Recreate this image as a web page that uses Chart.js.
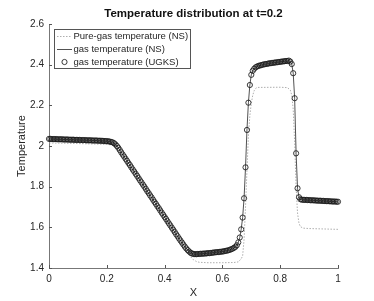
<!DOCTYPE html>
<html lang="en">
<head>
  <meta charset="UTF-8">
  <title>Temperature distribution at t=0.2</title>
  <script src="https://cdn.jsdelivr.net/npm/chart.js"></script>
  <style>
    * {
      box-sizing: border-box;
      margin: 0;
      padding: 0;
    }

    body {
      background: #fff;
      width: 374px;
      height: 301px;
      overflow: hidden;
    }

    .chart-box {
      position: relative;
      width: 374px;
      height: 301px;
    }
  </style>
</head>
<body>
  <div class="chart-box">
    <canvas id="tempChart"></canvas>
  </div>

  <script>
    // axis ticks
    const xTicks = [0, 0.2, 0.4, 0.6, 0.8, 1];
    const yTicks = [1.4, 1.6, 1.8, 2.0, 2.2, 2.4, 2.6];

    const seriesNames = ['Pure-gas temperature (NS)', 'gas temperature (NS)', 'gas temperature (UGKS)'];

    // gas temperature, one value per cell (dx = 0.005, x = 0 ... 1)
    const gasT = [
      2.035, 2.035, 2.034, 2.034, 2.034, 2.034, 2.033, 2.033, 2.033, 2.033,
      2.032, 2.032, 2.032, 2.032, 2.031, 2.031, 2.031, 2.031, 2.030, 2.030,
      2.030, 2.030, 2.029, 2.029, 2.029, 2.029, 2.028, 2.028, 2.028, 2.028,
      2.027, 2.027, 2.027, 2.027, 2.026, 2.026, 2.026, 2.025, 2.025, 2.024,
      2.024, 2.023, 2.022, 2.020, 2.018, 2.014, 2.008, 2.000, 1.991, 1.980,
      1.969, 1.958, 1.948, 1.937, 1.927, 1.916, 1.906, 1.895, 1.884, 1.874,
      1.863, 1.853, 1.842, 1.831, 1.821, 1.810, 1.800, 1.789, 1.778, 1.768,
      1.757, 1.747, 1.736, 1.725, 1.715, 1.704, 1.694, 1.683, 1.672, 1.662,
      1.651, 1.641, 1.630, 1.619, 1.609, 1.598, 1.588, 1.577, 1.566, 1.556,
      1.545, 1.535, 1.525, 1.515, 1.505, 1.496, 1.488, 1.481, 1.475, 1.471,
      1.469, 1.468, 1.468, 1.469, 1.469, 1.470, 1.470, 1.471, 1.471, 1.472,
      1.473, 1.473, 1.474, 1.475, 1.476, 1.477, 1.478, 1.478, 1.479, 1.480,
      1.481, 1.482, 1.484, 1.485, 1.487, 1.489, 1.492, 1.495, 1.499, 1.504,
      1.512, 1.526, 1.550, 1.590, 1.648, 1.743, 1.895, 2.079, 2.213, 2.300,
      2.350, 2.370, 2.380, 2.387, 2.391, 2.394, 2.396, 2.398, 2.400, 2.402,
      2.403, 2.404, 2.406, 2.407, 2.408, 2.409, 2.410, 2.411, 2.412, 2.413,
      2.414, 2.415, 2.416, 2.417, 2.418, 2.418, 2.420, 2.415, 2.403, 2.358,
      2.235, 1.964, 1.792, 1.748, 1.738, 1.736, 1.735, 1.735, 1.735, 1.734,
      1.734, 1.733, 1.733, 1.733, 1.732, 1.732, 1.731, 1.731, 1.731, 1.730,
      1.730, 1.729, 1.729, 1.729, 1.728, 1.728, 1.727, 1.727, 1.727, 1.726,
      1.726
    ];

    // pure-gas temperature, read at key positions
    const pureX = [
      0, 0.05, 0.10, 0.15, 0.20, 0.22, 0.23, 0.24, 0.25, 0.30, 0.35, 0.40, 0.45,
      0.47, 0.48, 0.49, 0.50, 0.51, 0.52, 0.55, 0.60, 0.64, 0.655, 0.665, 0.67,
      0.675, 0.68, 0.685, 0.69, 0.695, 0.70, 0.705, 0.71, 0.715, 0.72, 0.80,
      0.825, 0.835, 0.84, 0.845, 0.85, 0.855, 0.86, 0.865, 0.87, 0.88, 0.90,
      0.95, 1.0
    ];
    const pureT = [
      2.015, 2.014, 2.012, 2.010, 2.008, 2.005, 2.000, 1.988, 1.966, 1.860, 1.753, 1.647, 1.540,
      1.497, 1.475, 1.455, 1.440, 1.432, 1.428, 1.426, 1.426, 1.427, 1.430, 1.445, 1.460,
      1.540, 1.700, 1.880, 2.050, 2.150, 2.210, 2.250, 2.272, 2.283, 2.288, 2.289,
      2.287, 2.275, 2.250, 2.180, 2.020, 1.800, 1.670, 1.620, 1.603, 1.596, 1.594,
      1.592, 1.590
    ];

    const FONT = "'Liberation Sans', Arial, Helvetica, sans-serif";
    const TEXT = '#262626';

    const gasPts = gasT.map((t, i) => ({ x: i * 0.005, y: t }));
    const purePts = pureX.map((x, i) => ({ x: x, y: pureT[i] }));

    // MATLAB-like inward tick marks
    const innerTicks = {
      id: 'innerTicks',
      afterDraw(chart) {
        const { ctx, chartArea: a, scales: { x, y } } = chart;
        ctx.save();
        ctx.strokeStyle = '#555';
        ctx.lineWidth = 1;
        ctx.beginPath();
        xTicks.forEach(v => {
          const px = Math.round(x.getPixelForValue(v)) + 0.5;
          ctx.moveTo(px, a.bottom);
          ctx.lineTo(px, a.bottom - 3);
        });
        yTicks.forEach(v => {
          const py = Math.round(y.getPixelForValue(v)) + 0.5;
          ctx.moveTo(a.left, py);
          ctx.lineTo(a.left + 3, py);
        });
        ctx.stroke();
        ctx.restore();
      }
    };

    // legend box in the upper left corner of the axes
    const legendBox = {
      id: 'legendBox',
      afterDraw(chart) {
        const ctx = chart.ctx;
        const sets = chart.data.datasets;
        const rows = [
          { ds: sets[2], y: 36.5 },
          { ds: sets[1], y: 49.5 },
          { ds: sets[0], y: 62 }
        ];
        ctx.save();
        ctx.fillStyle = '#fff';
        ctx.fillRect(54.5, 29.5, 136, 39);
        ctx.strokeStyle = '#555';
        ctx.lineWidth = 1;
        ctx.strokeRect(54.5, 29.5, 136, 39);

        rows.forEach(r => {
          const ds = r.ds;
          if (ds.showLine === false) {
            ctx.beginPath();
            ctx.arc(64.5, r.y, ds.pointRadius, 0, Math.PI * 2);
            ctx.strokeStyle = ds.pointBorderColor;
            ctx.lineWidth = ds.pointBorderWidth;
            ctx.stroke();
          } else {
            ctx.beginPath();
            ctx.setLineDash(ds.borderDash || []);
            ctx.strokeStyle = ds.borderColor;
            ctx.lineWidth = ds.borderWidth;
            ctx.moveTo(57, r.y);
            ctx.lineTo(72, r.y);
            ctx.stroke();
            ctx.setLineDash([]);
          }
          ctx.fillStyle = TEXT;
          ctx.font = '9.5px ' + FONT;
          ctx.textBaseline = 'middle';
          ctx.textAlign = 'left';
          ctx.fillText(ds.label, 73.5, r.y);
        });
        ctx.restore();
      }
    };

    new Chart(document.getElementById('tempChart'), {
      type: 'line',
      data: {
        datasets: [
          {
            label: seriesNames[2],
            data: gasPts,
            showLine: false,
            pointStyle: 'circle',
            pointRadius: 2.6,
            pointBorderWidth: 0.85,
            pointBorderColor: '#1a1a1a',
            pointBackgroundColor: 'rgba(0,0,0,0)',
            order: 0,
            clip: false
          },
          {
            label: seriesNames[1],
            data: gasPts,
            borderColor: '#262626',
            borderWidth: 0.8,
            pointRadius: 0,
            tension: 0,
            order: 1,
            clip: false
          },
          {
            label: seriesNames[0],
            data: purePts,
            borderColor: '#999',
            borderWidth: 0.8,
            borderDash: [1.5, 1.5],
            pointRadius: 0,
            tension: 0,
            order: 2,
            clip: false
          }
        ]
      },
      options: {
        responsive: true,
        maintainAspectRatio: false,
        animation: false,
        devicePixelRatio: 1,
        events: [],
        layout: {
          padding: { left: 0, right: 36, top: 0, bottom: 0 }
        },
        plugins: {
          legend: { display: false },
          tooltip: { enabled: false },
          title: {
            display: true,
            text: 'Temperature distribution at t=0.2',
            color: '#111',
            fullSize: false,
            font: { family: FONT, size: 11.5, weight: 'bold' },
            padding: { top: 7, bottom: 3.2 }
          }
        },
        scales: {
          x: {
            type: 'linear',
            min: 0,
            max: 1,
            afterFit(scale) { scale.height = 33; },
            afterBuildTicks(scale) { scale.ticks = xTicks.map(v => ({ value: v })); },
            grid: { display: false, drawTicks: false },
            border: { display: true, color: '#777', width: 1 },
            ticks: {
              padding: 5,
              color: TEXT,
              font: { family: FONT, size: 10 },
              callback: v => String(v)
            },
            title: {
              display: true,
              text: 'X',
              color: TEXT,
              font: { family: FONT, size: 11 },
              padding: { top: 0, bottom: 1.7 }
            }
          },
          y: {
            type: 'linear',
            min: 1.4,
            max: 2.6,
            afterFit(scale) { scale.width = 49; },
            afterBuildTicks(scale) { scale.ticks = yTicks.map(v => ({ value: v })); },
            grid: { display: false, drawTicks: false },
            border: { display: true, color: '#777', width: 1 },
            ticks: {
              padding: 5,
              color: TEXT,
              font: { family: FONT, size: 10 },
              callback: v => String(Math.round(v * 10) / 10)
            },
            title: {
              display: true,
              text: 'Temperature',
              color: TEXT,
              font: { family: FONT, size: 11 },
              padding: { top: 15.4, bottom: 0 }
            }
          }
        }
      },
      plugins: [innerTicks, legendBox]
    });
  </script>
</body>
</html>
